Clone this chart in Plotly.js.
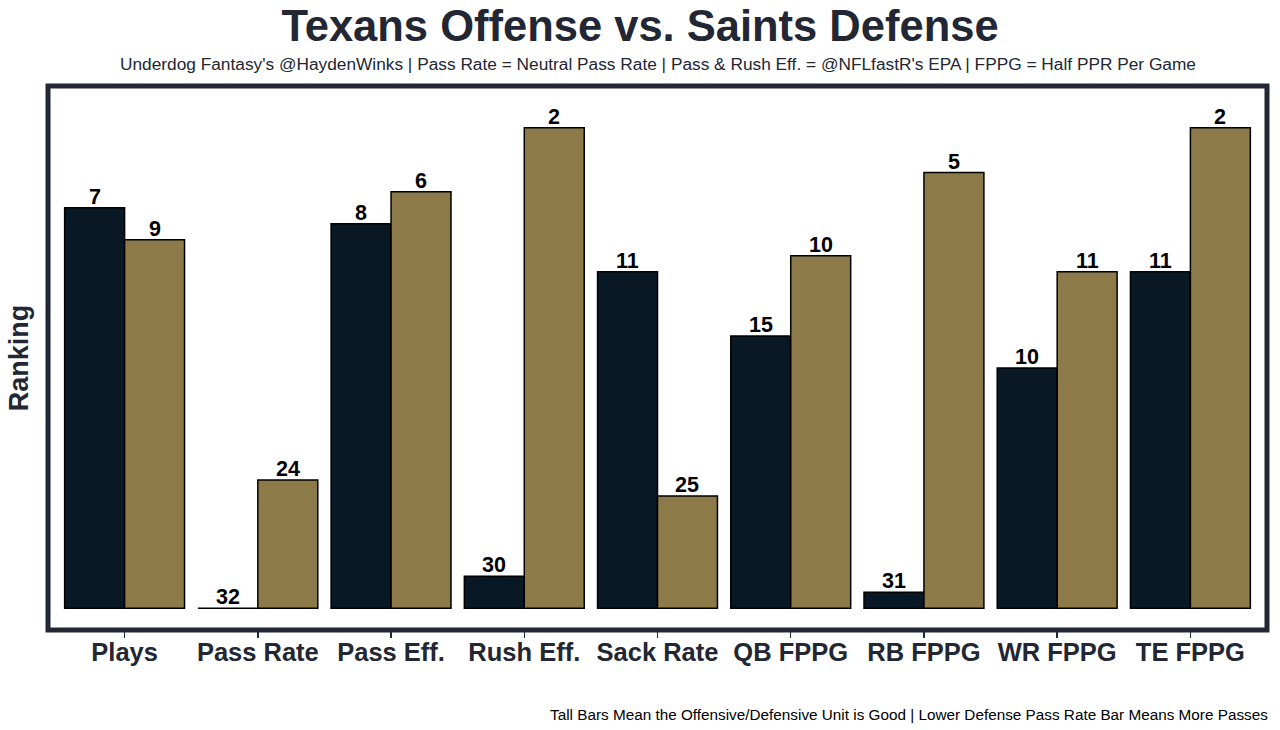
<!DOCTYPE html>
<html>
<head>
<meta charset="utf-8">
<script src="https://cdn.plot.ly/plotly-3.0.1.min.js"></script>
<style>html,body{margin:0;padding:0;background:#fff;}#chart{width:1280px;height:730px;}</style>
</head>
<body>
<div id="chart"></div>
<script>
const categories = ["Plays", "Pass Rate", "Pass Eff.", "Rush Eff.", "Sack Rate", "QB FPPG", "RB FPPG", "WR FPPG", "TE FPPG"];
// Labels shown above bars (rankings)
const offenseLabels = [7, 32, 8, 30, 11, 15, 31, 10, 11];
const defenseLabels = [9, 24, 6, 2, 25, 10, 5, 11, 2];
// Bar heights (in ranking units, 0 = worst)
const offenseHeights = [25, 0, 24, 2, 21, 17, 1, 15, 21];
const defenseHeights = [23, 8, 26, 30, 7, 22, 27.2, 21, 30];

const FONT = "Liberation Sans, Arial, Helvetica, sans-serif";
const DARK = "#222733";
const BARGAP = 0.1;
const HALF = (1 - BARGAP) / 4; // centre offset of each bar within a group

function barTrace(name, heights, color) {
  return {
    type: "bar",
    name: name,
    x: categories,
    y: heights,
    marker: {color: color, line: {color: "#000000", width: 1.5}},
    hoverinfo: "skip"
  };
}

const data = [
  barTrace("Offense", offenseHeights, "#081925"),
  barTrace("Defense", defenseHeights, "#8c7a48")
];

function labelAnnotations(heights, labels, offset) {
  return categories.map((c, i) => ({
    x: i + offset, y: heights[i], xref: "x", yref: "y",
    text: String(labels[i]), showarrow: false,
    xanchor: "center", yanchor: "bottom", yshift: -3,
    font: {family: FONT, size: 21.5, color: "#000000", weight: "bold"}
  }));
}

const layout = {
  width: 1280, height: 730,
  paper_bgcolor: "#ffffff", plot_bgcolor: "#ffffff",
  margin: {l: 47.5, r: 12.5, t: 86, b: 99.5},
  showlegend: false,
  barmode: "group", bargap: BARGAP, bargroupgap: 0,
  title: {
    text: "Texans Offense vs. Saints Defense",
    font: {family: FONT, size: 43.5, color: DARK, weight: "bold"},
    x: 0.5, xanchor: "center", xref: "container",
    y: 0.965, yanchor: "middle", yref: "container"
  },
  xaxis: {
    range: [-0.575, 8.575],
    showgrid: false, zeroline: false, showline: false,
    ticks: "outside", ticklen: 7, tickwidth: 1.5, tickcolor: DARK,
    ticklabelstandoff: -8,
    tickfont: {family: FONT, size: 25.5, color: DARK, weight: "bold"},
    fixedrange: true
  },
  yaxis: {
    range: [-1.36, 32.6],
    showgrid: false, zeroline: false, showline: false,
    showticklabels: false, ticks: "",
    title: {text: "Ranking", font: {family: FONT, size: 27, color: DARK, weight: "bold"}, standoff: 10},
    fixedrange: true
  },
  shapes: [{
    type: "rect", xref: "paper", yref: "paper", x0: 0, x1: 1, y0: 0, y1: 1,
    line: {color: DARK, width: 5}, fillcolor: "rgba(0,0,0,0)", layer: "above"
  }],
  annotations: [
    {
      text: "Underdog Fantasy's @HaydenWinks | Pass Rate = Neutral Pass Rate | Pass & Rush Eff. = @NFLfastR's EPA | FPPG = Half PPR Per Game",
      xref: "paper", yref: "paper", x: 0.5, y: 1, xanchor: "center", yanchor: "middle",
      yshift: 22.5, showarrow: false,
      font: {family: FONT, size: 17.3, color: DARK}
    },
    {
      text: "Tall Bars Mean the Offensive/Defensive Unit is Good | Lower Defense Pass Rate Bar Means More Passes",
      xref: "paper", yref: "paper", x: 1, y: 0, xanchor: "right", yanchor: "middle",
      xshift: 3, yshift: -84, showarrow: false,
      font: {family: FONT, size: 15.3, color: "#000000"}
    }
  ].concat(labelAnnotations(offenseHeights, offenseLabels, -HALF))
   .concat(labelAnnotations(defenseHeights, defenseLabels, HALF))
};

Plotly.newPlot("chart", data, layout, {displayModeBar: false, staticPlot: true});
</script>
</body>
</html>
